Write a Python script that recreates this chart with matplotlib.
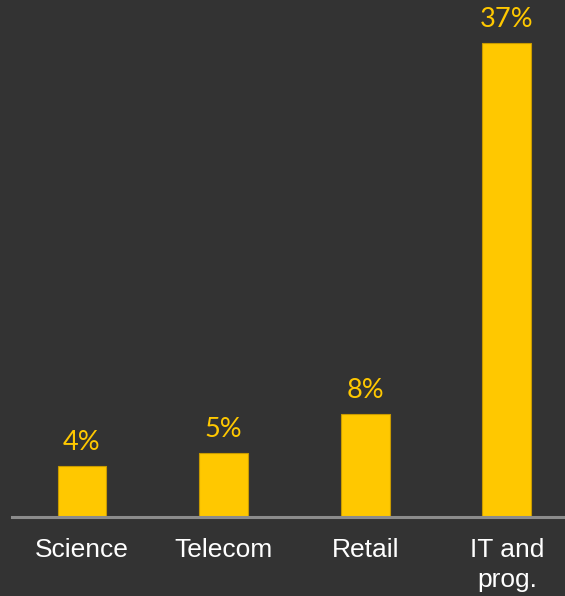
import matplotlib.pyplot as plt

categories = ["Science", "Telecom", "Retail", "IT and\nprog."]
shares = [4, 5, 8, 37]
labels = ["4%", "5%", "8%", "37%"]

bg = "#333333"
bar_color = "#FFC800"

fig = plt.figure(figsize=(5.65, 5.96), dpi=100, facecolor=bg)
ax = fig.add_axes([0.0212, 0.1326, 0.9788, 0.8674])
ax.set_facecolor(bg)

x = list(range(len(categories)))
bars = ax.bar(x, shares, width=0.345, color=bar_color, edgecolor="#C89A00", linewidth=0.8, zorder=2)

for b, lab in zip(bars, labels):
    ax.annotate(lab, (b.get_x() + b.get_width() / 2, b.get_height()),
                xytext=(0, 8), textcoords="offset points", ha="center", va="bottom",
                color=bar_color, fontsize=19.5, family=["Lato", "DejaVu Sans"])

ax.set_xlim(-0.494, 3.41)
ax.set_ylim(0, 40.36)
ax.set_xticks(x)
ax.set_xticklabels(categories, color="white", fontsize=19, family=["Liberation Sans", "DejaVu Sans"],
                   linespacing=1.3)
ax.tick_params(axis="x", length=0, pad=15)
ax.set_yticks([])
for s in ["top", "right", "left"]:
    ax.spines[s].set_visible(False)
ax.spines["bottom"].set_color("#8C8C8C")
ax.spines["bottom"].set_linewidth(2.2)
ax.spines["bottom"].set_zorder(3)

fig.savefig("out.png", dpi=100, facecolor=bg)
